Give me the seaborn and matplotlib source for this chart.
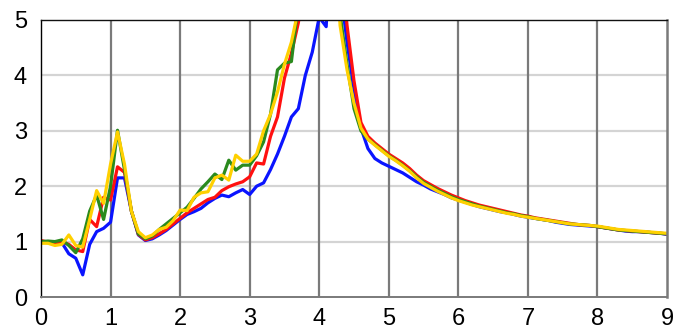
import numpy as np
import pandas as pd
import matplotlib
matplotlib.use("Agg")
import matplotlib.pyplot as plt
from matplotlib.ticker import MultipleLocator
import seaborn as sns

# Frequency axis (0 to 9, step 0.1)
freq = np.round(np.arange(0, 91) * 0.1, 1)

blue = [1.00, 0.98, 0.97, 0.98, 0.78, 0.70, 0.40, 0.95, 1.18, 1.24,
        1.35, 2.15, 2.15, 1.55, 1.12, 1.02, 1.05, 1.12, 1.20, 1.30,
        1.40, 1.49, 1.54, 1.60, 1.70, 1.78, 1.84, 1.81, 1.88, 1.94,
        1.85, 2.00, 2.06, 2.30, 2.58, 2.90, 3.25, 3.40, 4.00, 4.42,
        5.05, 4.88, 7.20, 5.60, 4.60, 3.75, 3.05, 2.68, 2.50, 2.42,
        2.36, 2.30, 2.24, 2.16, 2.08, 2.02, 1.95, 1.90, 1.85, 1.79,
        1.75, 1.71, 1.67, 1.63, 1.60, 1.57, 1.54, 1.52, 1.49, 1.46,
        1.44, 1.42, 1.40, 1.38, 1.35, 1.33, 1.31, 1.30, 1.29, 1.28,
        1.27, 1.25, 1.23, 1.21, 1.19, 1.18, 1.18, 1.17, 1.16, 1.15,
        1.13]

red = [1.02, 0.99, 0.96, 1.00, 0.95, 0.85, 0.82, 1.40, 1.27, 1.80,
       1.75, 2.35, 2.25, 1.55, 1.13, 1.03, 1.07, 1.14, 1.22, 1.32,
       1.42, 1.52, 1.60, 1.68, 1.76, 1.80, 1.92, 1.99, 2.04, 2.08,
       2.17, 2.42, 2.40, 2.90, 3.25, 3.95, 4.40, 4.95, 5.80, 6.50,
       7.50, 8.50, 8.00, 6.20, 4.90, 3.90, 3.15, 2.90, 2.78, 2.68,
       2.58, 2.50, 2.42, 2.32, 2.20, 2.10, 2.03, 1.96, 1.90, 1.84,
       1.79, 1.74, 1.70, 1.66, 1.63, 1.60, 1.57, 1.54, 1.51, 1.48,
       1.46, 1.43, 1.41, 1.39, 1.37, 1.35, 1.33, 1.31, 1.30, 1.29,
       1.27, 1.25, 1.23, 1.21, 1.20, 1.19, 1.18, 1.17, 1.16, 1.15,
       1.14]

green = [1.00, 1.01, 1.00, 1.03, 0.93, 0.80, 1.05, 1.55, 1.84, 1.40,
         2.00, 3.01, 2.30, 1.55, 1.14, 1.05, 1.10, 1.22, 1.32, 1.42,
         1.52, 1.62, 1.78, 1.95, 2.08, 2.22, 2.12, 2.47, 2.29, 2.38,
         2.38, 2.55, 2.80, 3.30, 4.10, 4.22, 4.25, 5.30, 6.00, 7.00,
         8.00, 8.50, 7.50, 5.10, 4.20, 3.40, 3.00, 2.85, 2.75, 2.65,
         2.55, 2.47, 2.38, 2.28, 2.17, 2.07, 2.00, 1.93, 1.87, 1.81,
         1.76, 1.72, 1.68, 1.64, 1.61, 1.58, 1.55, 1.52, 1.50, 1.47,
         1.45, 1.42, 1.40, 1.38, 1.36, 1.34, 1.32, 1.31, 1.30, 1.29,
         1.27, 1.25, 1.23, 1.21, 1.20, 1.19, 1.18, 1.17, 1.16, 1.15,
         1.14]

yellow = [0.97, 0.97, 0.93, 0.95, 1.12, 0.93, 0.90, 1.40, 1.92, 1.69,
          2.40, 2.98, 2.40, 1.55, 1.18, 1.07, 1.12, 1.22, 1.26, 1.38,
          1.57, 1.56, 1.80, 1.88, 1.90, 2.15, 2.20, 2.11, 2.56, 2.45,
          2.45, 2.58, 3.00, 3.30, 3.70, 4.20, 4.60, 5.20, 6.20, 7.00,
          8.00, 8.20, 7.00, 4.90, 4.10, 3.50, 3.05, 2.85, 2.74, 2.64,
          2.54, 2.46, 2.37, 2.27, 2.15, 2.05, 1.98, 1.91, 1.85, 1.79,
          1.74, 1.70, 1.66, 1.63, 1.60, 1.57, 1.54, 1.51, 1.49, 1.46,
          1.44, 1.42, 1.40, 1.38, 1.36, 1.34, 1.32, 1.31, 1.30, 1.29,
          1.28, 1.26, 1.24, 1.22, 1.21, 1.20, 1.19, 1.18, 1.17, 1.16,
          1.15]

series_names = ["blue", "red", "green", "yellow"]
series_colors = ["#0a14ff", "#ff1010", "#2a8a1e", "#ffd000"]

df = pd.concat(
    [pd.DataFrame({"freq": freq, "amp": vals, "series": name})
     for name, vals in zip(series_names, [blue, red, green, yellow])],
    ignore_index=True,
)

sns.set_style("white")
plt.rcParams["font.family"] = ["Liberation Sans", "DejaVu Sans"]

fig = plt.figure(figsize=(6.84, 3.36), dpi=100)
ax = fig.add_axes([41 / 684, 39 / 336, 626 / 684, 277 / 336])

# horizontal light grid, vertical dark grid
for yv in range(1, 5):
    ax.axhline(yv, color="#d4d4d4", lw=1.6, zorder=0)
for xv in range(1, 9):
    ax.axvline(xv, color="#7a7a7a", lw=1.6, zorder=0.5)

sns.lineplot(data=df, x="freq", y="amp", hue="series",
             palette=dict(zip(series_names, series_colors)),
             hue_order=series_names, estimator=None, sort=False,
             linewidth=2.3, legend=False, ax=ax, zorder=2)

ax.set_xlim(0, 9)
ax.set_ylim(0, 5)
ax.set_xlabel("")
ax.set_ylabel("")

ax.xaxis.set_major_locator(MultipleLocator(1))
ax.xaxis.set_minor_locator(MultipleLocator(0.2))
ax.yaxis.set_major_locator(MultipleLocator(1))
ax.yaxis.set_minor_locator(MultipleLocator(0.2))

ax.tick_params(axis="x", which="major", direction="out", length=6, width=1.6,
               color="#7a7a7a", labelsize=17, pad=2, labelcolor="black")
ax.tick_params(axis="x", which="minor", direction="out", length=5, width=1.0,
               color="#333333")
ax.tick_params(axis="y", which="major", direction="out", length=10, width=1.0,
               color="black", labelsize=17, pad=0, labelcolor="black")
ax.tick_params(axis="y", which="minor", direction="out", length=6, width=1.0,
               color="#333333")

ax.spines["top"].set_color("#111111")
ax.spines["top"].set_linewidth(1.0)
ax.spines["left"].set_color("black")
ax.spines["left"].set_linewidth(1.0)
ax.spines["bottom"].set_color("#7a7a7a")
ax.spines["bottom"].set_linewidth(1.4)
ax.spines["right"].set_color("#7a7a7a")
ax.spines["right"].set_linewidth(1.8)
for s in ax.spines.values():
    s.set_zorder(3)

fig.savefig("out.png", dpi=100)
